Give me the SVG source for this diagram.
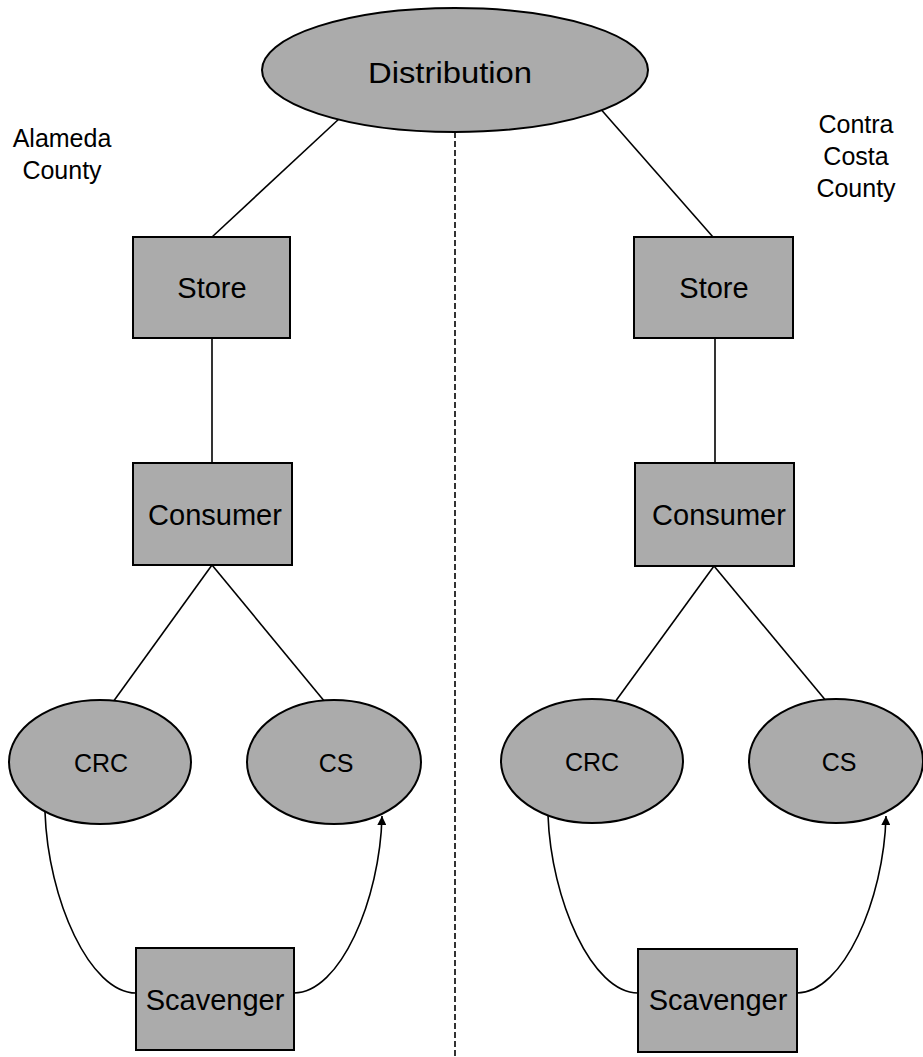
<svg xmlns="http://www.w3.org/2000/svg" width="923" height="1057" viewBox="0 0 923 1057">
<style>
.node{fill:#ababab;stroke:#000;stroke-width:2}
.lbl{font-family:"Liberation Sans",Arial,sans-serif;fill:#000;text-anchor:middle}
.big{font-size:29px}
.mid{font-size:25px}
.conn{fill:none;stroke:#000;stroke-width:1.6}
</style>
<defs>
<marker id="arr" viewBox="0 0 10 10" refX="10" refY="5" markerWidth="11" markerHeight="9" markerUnits="userSpaceOnUse" orient="auto">
<path d="M0,0 L10,5 L0,10 z" fill="#000"/>
</marker>
</defs>
<rect width="923" height="1057" fill="#fff"/>
<g id="labels">
<text class="lbl mid" x="62" y="147">Alameda</text>
<text class="lbl mid" x="62" y="179">County</text>
<text class="lbl mid" x="856" y="133">Contra</text>
<text class="lbl mid" x="856" y="165">Costa</text>
<text class="lbl mid" x="856" y="197">County</text>
</g>
<g id="connectors">
<line class="conn" x1="455" y1="132" x2="455" y2="1057" stroke-dasharray="6 3" stroke-width="2"/>
<line class="conn" x1="340" y1="118" x2="212" y2="237"/>
<line class="conn" x1="598" y1="106" x2="713" y2="237"/>
<line class="conn" x1="212" y1="338" x2="212" y2="463"/>
<line class="conn" x1="715" y1="338" x2="715" y2="463"/>
<line class="conn" x1="212" y1="565" x2="113" y2="702"/>
<line class="conn" x1="212" y1="565" x2="325" y2="702"/>
<line class="conn" x1="714" y1="566" x2="615" y2="702"/>
<line class="conn" x1="714" y1="566" x2="827" y2="702"/>
<path class="conn" d="M45,812 C48,900 90,993 136,993"/>
<path class="conn" d="M294,993 C340,993 380,900 382,816" marker-end="url(#arr)"/>
<path class="conn" d="M548,815 C551,900 592,993 638,993"/>
<path class="conn" d="M797,993 C843,993 884,900 886,816" marker-end="url(#arr)"/>
</g>
<g id="distribution">
<ellipse class="node" cx="455" cy="70" rx="193" ry="62"/>
<text class="lbl big" x="450" y="83" textLength="164" lengthAdjust="spacingAndGlyphs">Distribution</text>
</g>
<g id="store-left">
<rect class="node" x="133" y="237" width="157" height="101"/>
<text class="lbl big" x="212" y="298">Store</text>
</g>
<g id="store-right">
<rect class="node" x="634" y="237" width="159" height="101"/>
<text class="lbl big" x="714" y="298">Store</text>
</g>
<g id="consumer-left">
<rect class="node" x="133" y="463" width="159" height="102"/>
<text class="lbl big" x="215" y="525">Consumer</text>
</g>
<g id="consumer-right">
<rect class="node" x="635" y="463" width="159" height="103"/>
<text class="lbl big" x="719" y="525">Consumer</text>
</g>
<g id="crc-left">
<ellipse class="node" cx="100" cy="762" rx="91" ry="62"/>
<text class="lbl mid" x="101" y="772">CRC</text>
</g>
<g id="cs-left">
<ellipse class="node" cx="334" cy="762" rx="87" ry="62"/>
<text class="lbl mid" x="336" y="772">CS</text>
</g>
<g id="crc-right">
<ellipse class="node" cx="592" cy="761" rx="91" ry="62"/>
<text class="lbl mid" x="592" y="771">CRC</text>
</g>
<g id="cs-right">
<ellipse class="node" cx="836" cy="761" rx="87" ry="62"/>
<text class="lbl mid" x="839" y="771">CS</text>
</g>
<g id="scavenger-left">
<rect class="node" x="136" y="948" width="158" height="102"/>
<text class="lbl big" x="215" y="1010">Scavenger</text>
</g>
<g id="scavenger-right">
<rect class="node" x="638" y="949" width="159" height="103"/>
<text class="lbl big" x="718" y="1010">Scavenger</text>
</g>
</svg>
